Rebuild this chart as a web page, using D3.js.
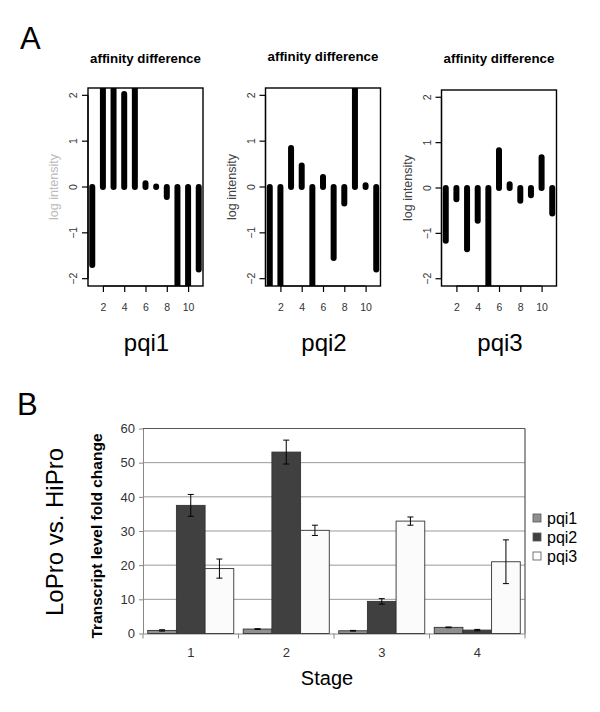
<!DOCTYPE html>
<html><head><meta charset="utf-8">
<script src="https://cdn.jsdelivr.net/npm/d3@7"></script>
<style>
html,body{margin:0;padding:0;background:#fff;}
svg{display:block;font-family:"Liberation Sans",Arial,sans-serif;}
</style></head>
<body>
<svg id="chart" width="600" height="712"></svg>
<script>
// ---------- Panel A data ----------
const probeIndex = [1,2,3,4,5,6,7,8,9,10,11];
const panelNames = ["pqi1","pqi2","pqi3"];
const pqi1Affinity = [-1.7, 2.6, 2.6, 2.03, 2.6, 0.08, 0.01, -0.22, -2.6, -2.6, -1.8];
const pqi2Affinity = [-2.6, -2.6, 0.85, 0.47, -2.6, 0.22, -1.55, -0.36, 2.6, 0.04, -1.8];
const pqi3Affinity = [-1.16, -0.25, -1.35, -0.72, -2.6, 0.83, 0.08, -0.28, -0.16, 0.68, -0.56];
const affinitySeries = [pqi1Affinity, pqi2Affinity, pqi3Affinity];
const yTicksA = [-2,-1,0,1,2];
const xTicksA = [2,4,6,8,10];

// ---------- Panel B data ----------
const stages = ["1","2","3","4"];
const seriesNames = ["pqi1","pqi2","pqi3"];
const pqi1Fold = [0.9, 1.3, 0.8, 1.8];
const pqi2Fold = [37.5, 53.1, 9.4, 1.0];
const pqi3Fold = [19.0, 30.2, 32.9, 21.0];
const pqi1Err = [0.2, 0.1, 0.1, 0.1];
const pqi2Err = [3.2, 3.5, 0.8, 0.2];
const pqi3Err = [2.8, 1.5, 1.2, 6.4];
const yTicksB = [0,10,20,30,40,50,60];
const seriesColors = ["#8f8f8f","#404040","#fbfbfb"];

const svg = d3.select("#chart");

// Panel letters
svg.append("text").attr("x",20).attr("y",49).attr("font-size",31).text("A");
svg.append("text").attr("x",17).attr("y",415).attr("font-size",31).text("B");

// ---------- Panel A ----------
const boxLeft = [88, 265.5, 441.5];
const boxTop = [88, 88, 90];
const boxW = 115, boxBottom = 286;
const titleY = [63, 61, 63];
const ylabColor = ["#bbbbbb","#444","#444"];

panelNames.forEach((name,i)=>{
  const L = boxLeft[i], T = boxTop[i];
  const x = d3.scaleLinear().domain([0.6,11.4]).range([L, L+boxW]);
  const y = d3.scaleLinear().domain([-2.16,2.16]).range([boxBottom, T]);
  const g = svg.append("g");
  const clipId = "clip"+i;
  svg.append("clipPath").attr("id",clipId).append("rect")
    .attr("x",L).attr("y",T).attr("width",boxW).attr("height",boxBottom-T);
  // bars
  g.append("g").attr("clip-path",`url(#${clipId})`)
    .selectAll("line").data(affinitySeries[i]).join("line")
    .attr("x1",(d,j)=>x(probeIndex[j])).attr("x2",(d,j)=>x(probeIndex[j]))
    .attr("y1",y(0)).attr("y2",d=>y(d))
    .attr("stroke","#000").attr("stroke-width",6).attr("stroke-linecap","round");
  // box
  g.append("rect").attr("x",L).attr("y",T).attr("width",boxW).attr("height",boxBottom-T)
    .attr("fill","none").attr("stroke","#000").attr("stroke-width",1.4);
  // y axis
  const ya = g.append("g")
    .call(d3.axisLeft(y).tickValues(yTicksA).tickSize(6).tickFormat(d=>d<0?"\u2212"+Math.abs(d):d).tickSizeOuter(0));
  ya.selectAll(".tick").attr("transform",null);
  ya.selectAll(".tick line").attr("stroke-width",1.2)
    .attr("x1",L).attr("x2",L-6).attr("y1",d=>y(d)).attr("y2",d=>y(d));
  ya.selectAll(".tick text").attr("font-size",10.5).attr("fill","#333")
    .attr("text-anchor","middle").attr("x",0).attr("y",0).attr("dy","0")
    .attr("transform",d=>`translate(${L-11},${y(d)}) rotate(-90)`);
  // x axis
  const xa = g.append("g").attr("transform",`translate(0,${boxBottom})`)
    .call(d3.axisBottom(x).tickValues(xTicksA).tickSize(6).tickSizeOuter(0));
  xa.selectAll(".tick line").attr("stroke-width",1.2);
  xa.selectAll(".tick text").attr("font-size",10.5).attr("fill","#333").attr("y",18);
  g.selectAll(".domain").remove();
  // domain lines (R style: from first to last tick)
  g.append("line").attr("x1",L).attr("x2",L).attr("y1",y(-2)).attr("y2",y(2)).attr("stroke","#000").attr("stroke-width",1.2);
  g.append("line").attr("x1",x(2)).attr("x2",x(10)).attr("y1",boxBottom).attr("y2",boxBottom).attr("stroke","#000").attr("stroke-width",1.2);
  // titles
  g.append("text").attr("x",L+boxW/2).attr("y",titleY[i]).attr("text-anchor","middle")
    .attr("font-size",13.3).attr("font-weight","bold").text("affinity difference");
  g.append("text").attr("transform",`translate(${L-30},${(T+boxBottom)/2}) rotate(-90)`)
    .attr("text-anchor","middle").attr("font-size",12.5).attr("fill",ylabColor[i]).text("log intensity");
  g.append("text").attr("x",L+boxW/2+1).attr("y",351).attr("text-anchor","middle")
    .attr("font-size",24).text(name);
});

// ---------- Panel B ----------
const bL = 143, bR = 525, bT = 428.5, bB = 633.5;
const xB = d3.scaleBand().domain(stages).range([bL,bR]).paddingInner(0).paddingOuter(0);
const xSub = d3.scaleBand().domain(seriesNames).range([0,xB.bandwidth()]).paddingInner(0).paddingOuter(0.165);
const yB = d3.scaleLinear().domain([0,60]).range([bB,bT]);
const gB = svg.append("g");

// gridlines
gB.selectAll("line.grid").data(yTicksB.filter(d=>d>0)).join("line").attr("class","grid")
  .attr("x1",bL).attr("x2",bR).attr("y1",d=>yB(d)).attr("y2",d=>yB(d))
  .attr("stroke","#9a9a9a").attr("stroke-width",1);
// plot border (top/right)
gB.append("line").attr("x1",bL).attr("x2",bR).attr("y1",bT).attr("y2",bT).attr("stroke","#555").attr("stroke-width",1.2);
gB.append("line").attr("x1",bR).attr("x2",bR).attr("y1",bT).attr("y2",bB).attr("stroke","#555").attr("stroke-width",1.2);

// y axis
const yaB = gB.append("g").attr("transform",`translate(${bL},0)`)
  .call(d3.axisLeft(yB).tickValues(yTicksB).tickSize(4).tickSizeOuter(0));
yaB.select(".domain").attr("stroke","#888");
yaB.selectAll(".tick line").attr("stroke","#888");
yaB.selectAll(".tick text").attr("font-size",13).attr("fill","#333").attr("x",-8);

// x axis
const xaB = gB.append("g").attr("transform",`translate(0,${bB})`)
  .call(d3.axisBottom(xB).tickSize(0).tickSizeOuter(0));
xaB.select(".domain").attr("stroke","#888");
xaB.selectAll(".tick text").attr("font-size",13).attr("fill","#333").attr("y",14);
// category separators
gB.selectAll("line.sep").data(d3.range(stages.length+1)).join("line").attr("class","sep")
  .attr("x1",d=>bL+d*xB.step()).attr("x2",d=>bL+d*xB.step())
  .attr("y1",bB).attr("y2",bB+5).attr("stroke","#888");

const foldSeries = [pqi1Fold, pqi2Fold, pqi3Fold];
const errSeries = [pqi1Err, pqi2Err, pqi3Err];
seriesNames.forEach((s,k)=>{
  const vals = foldSeries[k], errs = errSeries[k];
  const gs = gB.append("g");
  gs.selectAll("rect").data(vals).join("rect")
    .attr("x",(d,j)=>xB(stages[j])+xSub(s)).attr("width",xSub.bandwidth())
    .attr("y",d=>yB(d)).attr("height",d=>yB(0)-yB(d))
    .attr("fill",seriesColors[k]).attr("stroke","#333").attr("stroke-width",0.9);
  const cx = j => xB(stages[j])+xSub(s)+xSub.bandwidth()/2;
  vals.forEach((v,j)=>{
    const e = errs[j];
    gs.append("line").attr("x1",cx(j)).attr("x2",cx(j)).attr("y1",yB(v+e)).attr("y2",yB(v-e)).attr("stroke","#000").attr("stroke-width",1);
    [v+e, v-e].forEach(t=>{
      gs.append("line").attr("x1",cx(j)-3).attr("x2",cx(j)+3).attr("y1",yB(t)).attr("y2",yB(t)).attr("stroke","#000").attr("stroke-width",1);
    });
  });
});

// axis titles
gB.append("text").attr("transform",`translate(${102},${(bT+bB)/2+5}) rotate(-90)`)
  .attr("text-anchor","middle").attr("font-size",15.5).attr("font-weight","bold").text("Transcript level fold change");
gB.append("text").attr("transform",`translate(${63},${532}) rotate(-90)`)
  .attr("text-anchor","middle").attr("font-size",24).text("LoPro vs. HiPro");
gB.append("text").attr("x",327).attr("y",685).attr("text-anchor","middle").attr("font-size",20).text("Stage");

// legend
const leg = gB.append("g");
seriesNames.forEach((s,k)=>{
  const ly = 518 + k*19;
  leg.append("rect").attr("x",533).attr("y",ly-4).attr("width",8).attr("height",8)
    .attr("fill",seriesColors[k]).attr("stroke","#555").attr("stroke-width",0.8);
  leg.append("text").attr("x",547).attr("y",ly+5.5).attr("font-size",16).text(s);
});
</script>
</body></html>
